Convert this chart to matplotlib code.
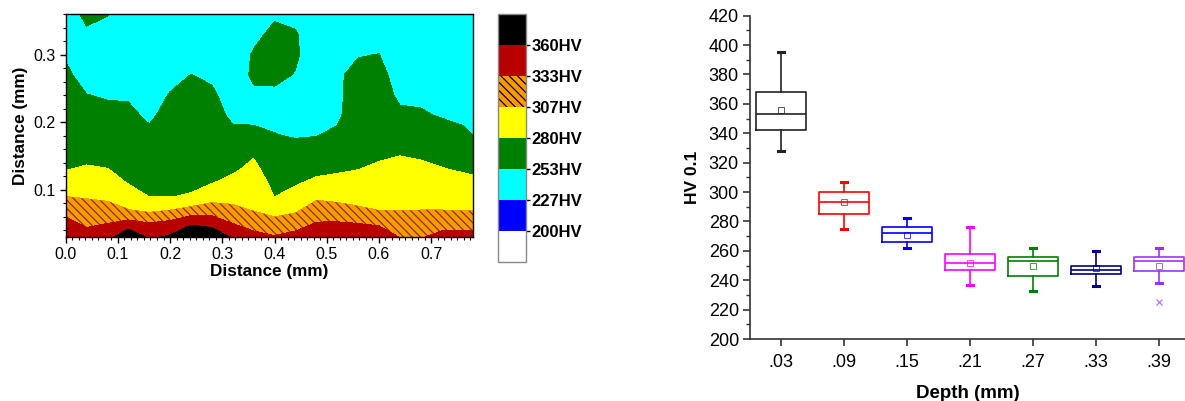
import matplotlib
matplotlib.use("Agg")
import matplotlib.pyplot as plt
from matplotlib.ticker import MultipleLocator, FormatStrFormatter

plt.rcParams['font.family'] = ['Liberation Sans', 'DejaVu Sans']
plt.rcParams['hatch.color'] = '#7a3800'
plt.rcParams['hatch.linewidth'] = 0.9

# ---- hardness map (HV) on a grid of surface positions ----
map_x = [0.00, 0.04, 0.08, 0.12, 0.16, 0.20, 0.24, 0.28, 0.32, 0.36, 0.40,
         0.44, 0.48, 0.52, 0.56, 0.60, 0.64, 0.68, 0.72, 0.76, 0.78]
map_y = [0.03, 0.05, 0.07, 0.09, 0.11, 0.13, 0.15, 0.18, 0.21, 0.24, 0.27,
         0.30, 0.33, 0.36]
map_hv = [
    [352, 342, 350, 385, 355, 364, 382, 378, 357, 342, 335, 342, 350, 352, 352, 352, 332, 331, 340.5, 342, 342],
    [340, 329, 333, 342, 334.5, 340, 357, 352, 333, 322, 316, 321.6, 334.6, 335.5, 333, 329, 320, 319, 323.8, 323.7, 323.7],
    [325, 317, 316, 308, 301, 307, 316, 319, 313, 305.7, 297.6, 303, 318.7, 316, 310.4, 306.6, 306.3, 307, 307, 306, 306],
    [307, 305, 302, 292, 279.6, 279.6, 281, 297, 298.6, 299, 279.6, 289, 302.4, 300, 298.8, 298.8, 299.8, 299.7, 298.4, 296.6, 295.8],
    [292, 293, 291, 279, 274.6, 276, 277.5, 279.3, 286.6, 292.5, 274, 277.6, 285.2, 287.5, 289.2, 291, 293.2, 292.4, 290, 287, 285.6],
    [279.5, 282, 280.5, 275, 269.6, 272.7, 274.5, 275.7, 276.6, 286, 268, 270, 274, 276.8, 279.8, 283, 286.6, 285, 281.3, 277.9, 275.9],
    [276, 276, 275, 270, 264.6, 269.3, 271.4, 272, 269, 278.7, 262.4, 262.7, 265.4, 269, 276.6, 278, 280, 277.8, 273.7, 269.6, 266.7],
    [271, 268, 267, 263.5, 257, 264, 267, 267, 258, 258.4, 254, 251.5, 252.5, 257, 271.7, 273, 268.6, 266.5, 262.6, 257.2, 253],
    [267, 261, 259, 257, 250, 259, 262, 261, 249, 248, 247, 246, 247, 249, 266.8, 268, 257.2, 255.3, 251.5, 249, 248],
    [262, 253.5, 251, 251, 246, 254, 258, 256, 245, 250, 249, 246, 244, 249, 262, 263, 249, 249, 247, 246, 245],
    [257, 245, 246, 246, 243, 248, 253.2, 250, 243, 256, 258, 252, 242, 251, 257, 258.3, 246, 245, 244, 244, 243],
    [251, 242, 242, 242, 241, 244, 247, 245, 241, 255, 262, 256, 241, 248, 252.2, 253.3, 243, 243, 242, 242, 241],
    [240, 247, 244, 240, 240, 241, 243, 242, 240, 248, 258, 255, 240, 241, 245, 246, 241, 241, 240, 240, 240],
    [235, 262, 254, 238, 238, 239, 240, 240, 240, 245, 250, 247, 239, 240, 241, 241, 240, 240, 239, 239, 239],
]
hv_levels = [150, 200, 227, 253, 280, 307, 333, 360, 420]
hv_colors = ['#ffffff', '#0000ff', '#00ffff', '#008000', '#ffff00',
             '#ff9900', '#b80000', '#000000']
hv_hatches = ['', '', '', '', '', '\\\\\\\\', '', '']
hv_ticks = [200, 227, 253, 280, 307, 333, 360]

# ---- micro-hardness vs depth (box statistics) ----
depth_labels = ['.03', '.09', '.15', '.21', '.27', '.33', '.39']
box_whislo = [328, 275, 262, 237, 233, 236, 238]
box_q1 = [342, 285, 266, 247, 243, 244, 246]
box_med = [353, 293, 272, 252, 253, 247, 253]
box_q3 = [368, 300, 276, 258, 256, 250, 256]
box_whishi = [395, 307, 282, 276, 262, 260, 262]
box_mean = [356, 293, 271, 252, 250, 248, 250]
box_fliers = [[], [], [], [], [], [], [225]]
box_colors = ['#222222', '#ff0000', '#0000ff', '#ff00ff', '#008000',
              '#000080', '#9933ff']

fig = plt.figure(figsize=(11.85, 4.01), dpi=100)

# ---------------- contour map ----------------
ax1 = fig.add_axes([0.0554, 0.409, 0.3437, 0.556])
cs = ax1.contourf(map_x, map_y, map_hv, levels=hv_levels, colors=hv_colors,
                  hatches=hv_hatches)
ax1.set_xlim(0, 0.78)
ax1.set_ylim(0.03, 0.36)
ax1.xaxis.set_major_locator(MultipleLocator(0.1))
ax1.xaxis.set_minor_locator(MultipleLocator(0.0125))
ax1.yaxis.set_major_locator(MultipleLocator(0.1))
ax1.yaxis.set_minor_locator(MultipleLocator(0.02))
ax1.xaxis.set_major_formatter(FormatStrFormatter('%.1f'))
ax1.yaxis.set_major_formatter(FormatStrFormatter('%.1f'))
ax1.tick_params(which='major', direction='out', length=4, width=1,
                labelsize=11.5, pad=3, top=False, right=False)
ax1.tick_params(which='minor', direction='out', length=2, width=0.8,
                top=False, right=False)
for s in ax1.spines.values():
    s.set_linewidth(1.0)
ax1.set_xlabel('Distance (mm)', fontsize=12.3, fontweight='bold', labelpad=2)
ax1.set_ylabel('Distance (mm)', fontsize=12.3, fontweight='bold', labelpad=4)

# ---------------- colour scale ----------------
cax = fig.add_axes([0.4203, 0.347, 0.0234, 0.617])
cb = fig.colorbar(cs, cax=cax, ticks=hv_ticks)
cb.set_ticklabels([f'{v}HV' for v in hv_ticks])
cb.outline.set_edgecolor('#888888')
cb.outline.set_linewidth(1.0)
cax.tick_params(direction='out', length=3, width=1, pad=1, labelsize=12)
for t in cax.get_yticklabels():
    t.set_fontweight('bold')
cax.minorticks_off()

# ---------------- box plot ----------------
ax2 = fig.add_axes([0.6329, 0.1546, 0.3671, 0.8063])
positions = list(range(1, len(depth_labels) + 1))
stats = []
for i, lab in enumerate(depth_labels):
    stats.append(dict(label=lab, whislo=box_whislo[i], q1=box_q1[i],
                      med=box_med[i], q3=box_q3[i], whishi=box_whishi[i],
                      mean=box_mean[i], fliers=box_fliers[i]))
art = ax2.bxp(stats, positions=positions, widths=0.8, capwidths=0.1,
              showmeans=True, manage_ticks=False)
for i, c in enumerate(box_colors):
    art['boxes'][i].set_color(c)
    art['boxes'][i].set_linewidth(1.2)
    art['medians'][i].set_color(c)
    art['medians'][i].set_linewidth(1.2)
    for w in art['whiskers'][2 * i:2 * i + 2]:
        w.set_color(c)
        w.set_linewidth(1.2)
    for cp in art['caps'][2 * i:2 * i + 2]:
        cp.set_color(c)
        cp.set_linewidth(2.2)
    m = art['means'][i]
    m.set_marker('s')
    m.set_markersize(4)
    m.set_markerfacecolor('none')
    m.set_markeredgecolor(c)
    m.set_markeredgewidth(0.7)
    m.set_alpha(0.75)
    f = art['fliers'][i]
    f.set_marker('x')
    f.set_markersize(4)
    f.set_markeredgecolor(c)
    f.set_markeredgewidth(0.8)
    f.set_alpha(0.75)

ax2.set_xlim(0.508, 7.41)
ax2.set_ylim(200, 420)
ax2.set_xticks(positions)
ax2.set_xticklabels(depth_labels)
ax2.yaxis.set_major_locator(MultipleLocator(20))
ax2.yaxis.set_minor_locator(MultipleLocator(10))
ax2.spines['top'].set_visible(False)
ax2.spines['right'].set_visible(False)
for s in ('left', 'bottom'):
    ax2.spines[s].set_linewidth(1.2)
    ax2.spines[s].set_color('#333333')
ax2.tick_params(which='major', direction='out', length=5, width=1.2,
                labelsize=13, pad=3, colors='#333333', labelcolor='black')
ax2.tick_params(axis='x', pad=6)
ax2.tick_params(which='minor', axis='y', direction='out', length=3, width=1.0,
                colors='#333333')
ax2.set_xlabel('Depth (mm)', fontsize=13.5, fontweight='bold', labelpad=10)
ax2.set_ylabel('HV 0.1', fontsize=12.5, fontweight='bold', labelpad=6)

fig.savefig('out.png', dpi=100)
